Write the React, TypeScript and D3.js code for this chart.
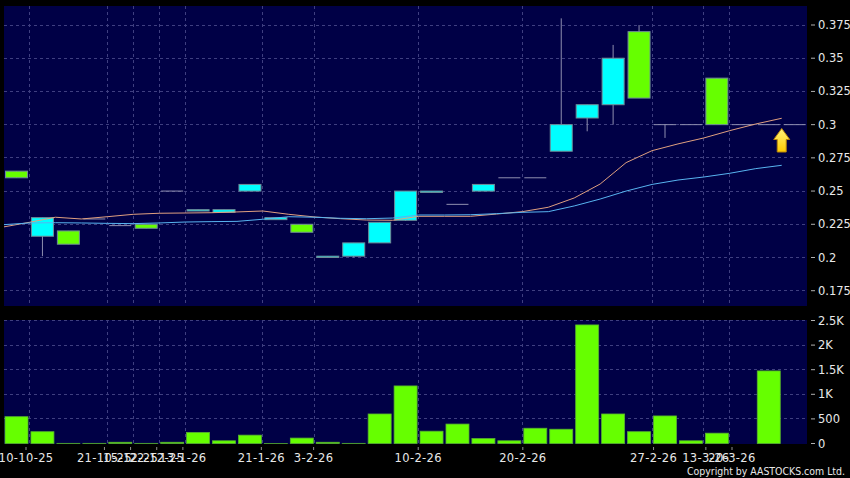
import React from 'react';
import * as d3 from 'd3';

const opens = [0.265, 0.216, 0.22, 0.229, 0.224, 0.225, 0.25, 0.235, 0.234, 0.25, 0.2285, 0.225, 0.2, 0.201, 0.211, 0.228, 0.249, 0.24, 0.25, 0.26, 0.26, 0.28, 0.305, 0.315, 0.37, 0.3, 0.3, 0.335, 0.3, 0.3, 0.3];
const closes = [0.26, 0.23, 0.21, 0.229, 0.224, 0.222, 0.25, 0.236, 0.236, 0.255, 0.23, 0.219, 0.201, 0.211, 0.2265, 0.25, 0.25, 0.24, 0.255, 0.26, 0.26, 0.3, 0.315, 0.35, 0.32, 0.3, 0.3, 0.3, 0.3, 0.3, 0.3];
const highs = [0.265, 0.23, 0.22, 0.229, 0.224, 0.225, 0.25, 0.236, 0.236, 0.255, 0.23, 0.225, 0.201, 0.211, 0.2265, 0.25, 0.25, 0.24, 0.255, 0.26, 0.26, 0.38, 0.315, 0.36, 0.375, 0.3, 0.3, 0.335, 0.3, 0.3, 0.3];
const lows = [0.26, 0.201, 0.21, 0.229, 0.224, 0.222, 0.25, 0.235, 0.234, 0.25, 0.2285, 0.219, 0.2, 0.2, 0.211, 0.2275, 0.249, 0.24, 0.25, 0.26, 0.26, 0.28, 0.295, 0.3, 0.32, 0.29, 0.3, 0.3, 0.3, 0.3, 0.3];
const volumes = [545, 240, 3, 3, 25, 3, 25, 225, 55, 170, 2, 110, 25, 3, 600, 1170, 250, 395, 100, 55, 310, 290, 2410, 600, 240, 560, 55, 210, 0, 1475, 0];

// moving averages sit half a step right of the candles
const maFast = [0.223, 0.2265, 0.2303, 0.229, 0.2307, 0.2325, 0.2333, 0.2335, 0.2337, 0.2343, 0.235, 0.2325, 0.2305, 0.2292, 0.2282, 0.228, 0.231, 0.231, 0.231, 0.2327, 0.2345, 0.2378, 0.2448, 0.2553, 0.2714, 0.2804, 0.2855, 0.29, 0.2955, 0.3005, 0.3048];
const maSlow = [0.2247, 0.226, 0.2262, 0.226, 0.2257, 0.2255, 0.226, 0.2267, 0.227, 0.2272, 0.2288, 0.2307, 0.2303, 0.2295, 0.2292, 0.2297, 0.232, 0.232, 0.2322, 0.233, 0.234, 0.2345, 0.2388, 0.244, 0.25, 0.255, 0.2583, 0.2606, 0.2634, 0.2669, 0.2694];

const dateTicks = [0, 3, 4, 5, 6, 9, 11, 15, 19, 24, 26, 27];
const dateLabels = ['10-10-25', '21-10-25', '15-12-25', '22-12-25', '13-1-26', '21-1-26', '3-2-26', '10-2-26', '20-2-26', '27-2-26', '13-3-26', '20-3-26'];
const priceTicks = [0.175, 0.2, 0.225, 0.25, 0.275, 0.3, 0.325, 0.35, 0.375];
const volumeTicks = [0, 500, 1000, 1500, 2000, 2500];
const volumeLabels = ['0', '500', '1K', '1.5K', '2K', '2.5K'];

const PANEL = '#000046';
const GRID = '#3f3f80';
const CYAN = '#00ffff';
const GREEN = '#66ff00';
const EDGE = '#6f8c98';
const WICK = '#8f8fb0';
const FONT = '"DejaVu Sans", sans-serif';

const left = 4, right = 807;

export default function App() {
  const x = d3.scaleLinear().domain([0, 30]).range([16.5, 794.7]);
  // tick marks drift slightly against the grid in the original
  const tickX = d3.scaleLinear().domain([0.5, 27.5]).range([26, 732]);
  const y = d3.scaleLinear().domain([0.2, 0.375]).range([257.5, 25]);
  const yVol = d3.scaleLinear().domain([0, 2500]).range([443.5, 320.5]);
  const ma = d3.line<number>().x((_, i) => x(i - 0.5)).y(d => y(d));

  const panels: [number, number][] = [[6, 306], [320, 444]];

  return (
    <svg width={850} height={478} style={{ position: 'fixed', left: 0, top: 0, background: '#000' }} fontFamily={FONT}>
      <defs>
        <linearGradient id="arrowFill" x1="0" y1="0" x2="0" y2="1">
          <stop offset="0" stopColor="#fff27a" />
          <stop offset="1" stopColor="#ffcc00" />
        </linearGradient>
        <clipPath id="topClip"><rect x={left} y={6} width={right - left} height={300} /></clipPath>
      </defs>

      {panels.map(([t, b]) => <rect key={t} x={left} y={t} width={right - left} height={b - t} fill={PANEL} />)}

      {/* grid */}
      <g stroke={GRID} strokeWidth={1} strokeDasharray="3,3" shapeRendering="crispEdges">
        {priceTicks.map(t => <line key={t} x1={left} x2={right} y1={y(t)} y2={y(t)} />)}
        {volumeTicks.slice(1).map(t => <line key={t} x1={left} x2={right} y1={yVol(t)} y2={yVol(t)} />)}
        {dateTicks.map(i => panels.map(([t, b]) => <line key={`${i}-${t}`} x1={x(i + 0.5)} x2={x(i + 0.5)} y1={t} y2={b} />))}
      </g>

      {/* candles */}
      <g>
        {opens.map((o, i) => {
          const c = closes[i];
          const cx = x(i);
          const top = y(Math.max(o, c));
          const bottom = y(Math.min(o, c));
          return (
            <g key={i}>
              <line x1={cx} x2={cx} y1={y(highs[i])} y2={y(lows[i])} stroke={WICK} strokeWidth={1} />
              {o === c
                ? <line x1={cx - 11} x2={cx + 11} y1={top} y2={top} stroke={WICK} strokeWidth={1} />
                : <rect x={cx - 11} y={top} width={22} height={bottom - top} fill={c > o ? CYAN : GREEN} stroke={EDGE} strokeWidth={1} />}
            </g>
          );
        })}
      </g>

      {/* moving averages */}
      <g fill="none" strokeWidth={1} clipPath="url(#topClip)">
        <path d={ma(maFast) ?? ''} stroke="#e0a080" />
        <path d={ma(maSlow) ?? ''} stroke="#58b4f0" />
      </g>

      {/* latest marker */}
      <path
        transform={`translate(${x(29.5)},128.5)`}
        d="M0,0 L8,11 L4.5,11 L4.5,23.5 L-4.5,23.5 L-4.5,11 L-8,11 Z"
        fill="url(#arrowFill)"
        stroke="#b8860b"
        strokeWidth={1}
      />

      {/* volume */}
      <g>
        {volumes.map((v, i) => v > 0 && (
          <rect key={i} x={x(i) - 11.5} y={yVol(v)} width={23} height={yVol(0) - yVol(v)} fill={GREEN} stroke="#58b030" strokeWidth={0.8} />
        ))}
      </g>

      {/* right axes */}
      <g fill="#e8e8e8" fontSize={11.5}>
        {priceTicks.map(t => (
          <g key={t}>
            <line x1={811} x2={815} y1={y(t)} y2={y(t)} stroke="#b0b0b0" />
            <text x={818} y={y(t) + 4}>{d3.format('~g')(t)}</text>
          </g>
        ))}
        {volumeTicks.map((t, i) => (
          <g key={t}>
            <line x1={811} x2={815} y1={yVol(t)} y2={yVol(t)} stroke="#b0b0b0" />
            <text x={818} y={yVol(t) + 4}>{volumeLabels[i]}</text>
          </g>
        ))}
      </g>

      {/* dates */}
      <g fill="#e8e8e8" fontSize={11.5} letterSpacing={0.35} textAnchor="middle">
        {dateTicks.map((i, k) => (
          <g key={i}>
            <line x1={tickX(i + 0.5)} x2={tickX(i + 0.5)} y1={447} y2={450} stroke="#909090" />
            <text x={tickX(i + 0.5)} y={462}>{dateLabels[k]}</text>
          </g>
        ))}
      </g>

      <text x={687} y={475} fill="#e8e8e8" fontSize={10.5} textLength={158} lengthAdjust="spacingAndGlyphs">Copyright by AASTOCKS.com Ltd.</text>
    </svg>
  );
}
